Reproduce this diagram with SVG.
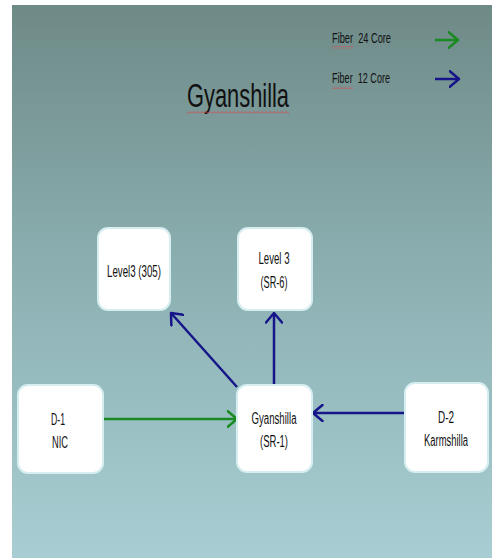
<svg xmlns="http://www.w3.org/2000/svg" width="492" height="559" viewBox="0 0 492 559">
<defs>
  <linearGradient id="bg" x1="0" y1="0" x2="0" y2="1">
    <stop offset="0" stop-color="#6e8a87"/>
    <stop offset="0.5" stop-color="#8db1b3"/>
    <stop offset="1" stop-color="#a8ced3"/>
  </linearGradient>
  <pattern id="squig" width="4" height="3" patternUnits="userSpaceOnUse">
    <path d="M0,2.5 L2,0.5 L4,2.5" fill="none" stroke="#d84a4a" stroke-width="0.9"/>
  </pattern>
  <marker id="ab" viewBox="0 0 12 18" refX="10.5" refY="9" markerWidth="12" markerHeight="18" markerUnits="userSpaceOnUse" orient="auto">
    <path d="M1,1 L10.5,9 L1,17" fill="none" stroke="#16168a" stroke-width="2.5" stroke-linecap="round" stroke-linejoin="round"/>
  </marker>
  <marker id="ag" viewBox="0 0 12 18" refX="10.5" refY="9" markerWidth="12" markerHeight="18" markerUnits="userSpaceOnUse" orient="auto">
    <path d="M1,1 L10.5,9 L1,17" fill="none" stroke="#1a8a22" stroke-width="2.5" stroke-linecap="round" stroke-linejoin="round"/>
  </marker>
</defs>
<style>
  .box { fill: #ffffff; stroke: #d6eef0; stroke-width: 2; }
  .t { font-family: "Liberation Sans", Arial, sans-serif; font-size: 16px; fill: #111; text-anchor: middle; }
  .lg { font-family: "Liberation Sans", Arial, sans-serif; font-size: 14px; fill: #111; white-space: pre; }
  .blue { stroke: #16168a; stroke-width: 2.5; fill: none; }
  .green { stroke: #1a8a22; stroke-width: 2.5; fill: none; }
</style>
<rect x="0" y="0" width="492" height="559" fill="#ffffff"/>
<rect x="12" y="5" width="480" height="553" fill="url(#bg)"/>

<g id="legend">
  <text class="lg" x="332" y="43" textLength="59" lengthAdjust="spacingAndGlyphs" xml:space="preserve">Fiber  24 Core</text>
  <rect x="332" y="46" width="21" height="3" fill="url(#squig)"/>
  <line class="green" x1="435" y1="40" x2="458" y2="40" marker-end="url(#ag)"/>
  <text class="lg" x="332" y="83" textLength="58" lengthAdjust="spacingAndGlyphs" xml:space="preserve">Fiber  12 Core</text>
  <rect x="332" y="86" width="21" height="3" fill="url(#squig)"/>
  <line class="blue" x1="435" y1="79" x2="459" y2="79" marker-end="url(#ab)"/>
</g>

<g id="title">
  <text x="187" y="107" font-family="Liberation Sans, Arial, sans-serif" font-size="33" fill="#111" textLength="102" lengthAdjust="spacingAndGlyphs">Gyanshilla</text>
  <rect x="187" y="111" width="102" height="3" fill="url(#squig)"/>
</g>

<g id="connectors">
  <line class="green" x1="103" y1="419" x2="237" y2="419" marker-end="url(#ag)"/>
  <line class="blue" x1="405" y1="413" x2="313" y2="413" marker-end="url(#ab)"/>
  <line class="blue" x1="237" y1="387" x2="171" y2="313" marker-end="url(#ab)"/>
  <line class="blue" x1="274" y1="387" x2="274" y2="313" marker-end="url(#ab)"/>
</g>

<g id="level3-305">
  <rect class="box" x="98" y="228" width="72" height="82" rx="10"/>
  <text class="t" x="134" y="277" textLength="54" lengthAdjust="spacingAndGlyphs">Level3 (305)</text>
</g>
<g id="level3-sr6">
  <rect class="box" x="238" y="228" width="74" height="82" rx="10"/>
  <text class="t" x="274" y="264" textLength="31" lengthAdjust="spacingAndGlyphs">Level 3</text>
  <text class="t" x="274" y="288" textLength="27" lengthAdjust="spacingAndGlyphs">(SR-6)</text>
</g>
<g id="d1-nic">
  <rect class="box" x="18" y="385" width="85" height="88" rx="10"/>
  <text class="t" x="58" y="425" textLength="14" lengthAdjust="spacingAndGlyphs">D-1</text>
  <text class="t" x="60" y="448" textLength="16" lengthAdjust="spacingAndGlyphs">NIC</text>
</g>
<g id="gyanshilla-sr1">
  <rect class="box" x="237" y="385" width="75" height="87" rx="10"/>
  <text class="t" x="274" y="424" textLength="45" lengthAdjust="spacingAndGlyphs">Gyanshilla</text>
  <text class="t" x="274" y="447" textLength="28" lengthAdjust="spacingAndGlyphs">(SR-1)</text>
</g>
<g id="d2-karmshilla">
  <rect class="box" x="405" y="383" width="83" height="89" rx="10"/>
  <text class="t" x="446" y="423" textLength="16" lengthAdjust="spacingAndGlyphs">D-2</text>
  <text class="t" x="446" y="446" font-size="15" textLength="44" lengthAdjust="spacingAndGlyphs">Karmshilla</text>
</g>
</svg>
